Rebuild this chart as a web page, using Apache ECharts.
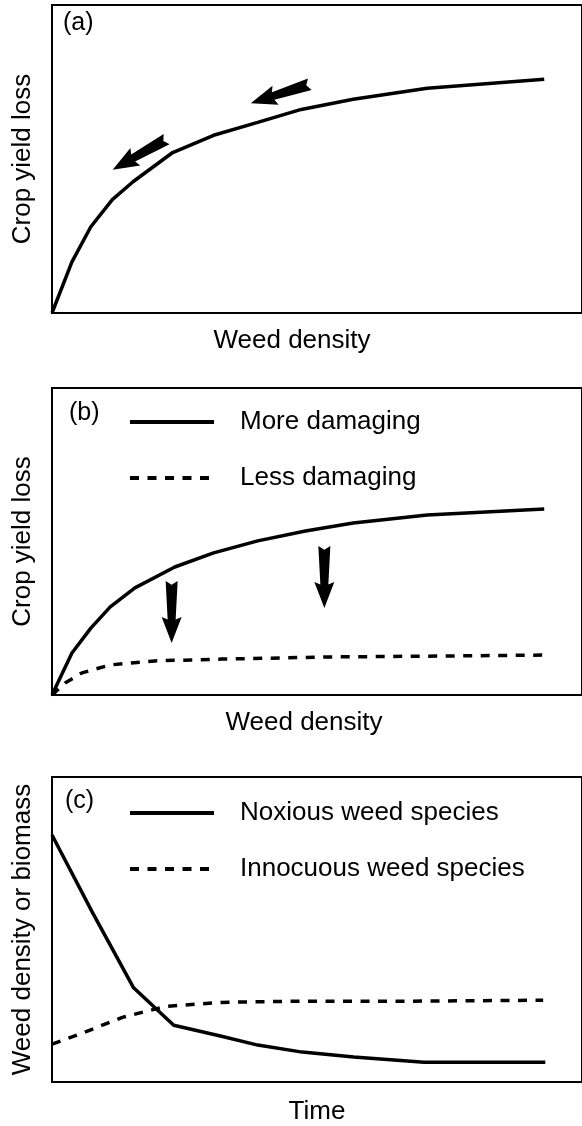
<!DOCTYPE html>
<html>
<head>
<meta charset="utf-8">
<title>Weed density figure</title>
<script src="https://cdn.jsdelivr.net/npm/echarts@6/dist/echarts.min.js"></script>
<style>
  html, body { margin: 0; padding: 0; background: #fff; }
  #chart { width: 582px; height: 1126px; }
</style>
</head>
<body>
<div id="chart"></div>
<script>
// panel (a)
var densityA = [0, 3.8, 7.4, 11.5, 15.5, 23.0, 30.8, 39.2, 47.5, 57.4, 71.5, 93.8];
var lossA = [0, 16.6, 28.0, 36.8, 42.7, 52.1, 57.7, 61.9, 66.1, 69.4, 73.0, 75.9];
var arrowsA = [[16.7, 51.5, 209.5], [43.5, 71.2, 197.8]];   // x, y, direction (deg)

// panel (b)
var moreX = [0, 3.8, 7.4, 11.1, 15.8, 23.4, 30.8, 39.2, 48.3, 57.4, 71.5, 93.8];
var moreY = [0, 13.7, 21.8, 28.7, 34.9, 41.7, 46.3, 50.2, 53.4, 56.0, 58.6, 60.6];
var lessX = [0, 2.5, 5.7, 11.1, 19.6, 32.3, 53.4, 74.3, 93.6];
var lessY = [0, 3.9, 7.2, 9.8, 11.1, 11.7, 12.4, 12.7, 13.0];
var arrowsB = [[22.8, 27.0, 270], [51.9, 38.4, 270]];

// panel (c)
var noxX = [0, 7.7, 15.5, 23.2, 32.3, 39.2, 47.7, 57.5, 70.9, 94.0];
var noxY = [81.0, 55.6, 31.0, 18.6, 15.0, 12.1, 9.8, 8.2, 6.5, 6.5];
var innX = [0, 6.2, 13.4, 21.7, 32.3, 46.2, 67.4, 93.6];
var innY = [12.4, 16.3, 21.2, 24.8, 26.1, 26.5, 26.5, 26.8];

var FONT = "'Liberation Sans', Arial, sans-serif";
// fat arrow pointing right, notched tail
var arrowPath = 'path://M0,8 L6,20 L0,32 L62,28 L58,40 L100,20 L58,0 L62,12 Z';
var DASH = [9, 8.5];

function zip(xs, ys) { return xs.map(function (x, i) { return [x, ys[i]]; }); }

var myChart = echarts.init(document.getElementById('chart'), null, { renderer: 'canvas' });

var grids = [
  { left: 52, width: 535, top: 5, height: 308 },
  { left: 52, width: 535, top: 388, height: 307 },
  { left: 52, width: 535, top: 777, height: 306 }
].map(function (g) {
  g.show = true; g.borderColor = '#000'; g.borderWidth = 2; g.backgroundColor = 'transparent';
  return g;
});

function xAx(i, name, shift, gap) {
  return {
    type: 'value', gridIndex: i, min: 0, max: 101,
    axisLine: { show: false }, axisTick: { show: false }, axisLabel: { show: false }, splitLine: { show: false },
    name: name, nameLocation: 'middle', nameGap: gap,
    nameTextStyle: { color: '#000', fontFamily: FONT, fontSize: 26, padding: [0, shift, 0, 0] }
  };
}
function yAx(i, name) {
  return {
    type: 'value', gridIndex: i, min: 0, max: 100,
    axisLine: { show: false }, axisTick: { show: false }, axisLabel: { show: false }, splitLine: { show: false },
    name: name, nameLocation: 'middle', nameGap: 16,
    nameTextStyle: { color: '#000', fontFamily: FONT, fontSize: 26 }
  };
}

function lineSeries(name, i, data, dashed) {
  return {
    name: name, type: 'line', xAxisIndex: i, yAxisIndex: i,
    data: data, symbol: 'none', smooth: false, silent: true,
    lineStyle: { color: '#000', width: 3.5, type: dashed ? DASH : 'solid' },
    itemStyle: { color: '#000' }
  };
}
function arrowSeries(i, arr) {
  return {
    type: 'scatter', xAxisIndex: i, yAxisIndex: i, silent: true,
    symbol: arrowPath, symbolSize: [62, 20],
    data: arr.map(function (a) { return { value: [a[0], a[1]], symbolRotate: a[2] }; }),
    itemStyle: { color: '#000', opacity: 1 }
  };
}

function legendFor(names, top) {
  return {
    data: names, orient: 'vertical', left: 128, top: top, padding: 0,
    itemWidth: 84, itemHeight: 30, itemGap: 26, selectedMode: false,
    itemStyle: { opacity: 0 },
    lineStyle: { width: 4 },
    textStyle: { color: '#000', fontFamily: FONT, fontSize: 26, lineHeight: 30, padding: [0, 0, 0, 21] }
  };
}

var labelStyle = { color: '#000', fontFamily: FONT, fontSize: 25, fontWeight: 'normal' };

var option = {
  backgroundColor: '#fff',
  animation: false,
  title: [
    { text: '(a)', left: 63, top: 11, padding: 0, textStyle: labelStyle },
    { text: '(b)', left: 69, top: 401, padding: 0, textStyle: labelStyle },
    { text: '(c)', left: 65, top: 789, padding: 0, textStyle: labelStyle }
  ],
  legend: [
    legendFor(['More damaging', 'Less damaging'], 407),
    legendFor(['Noxious weed species', 'Innocuous weed species'], 798)
  ],
  grid: grids,
  xAxis: [
    xAx(0, 'Weed density', 50, 15),
    xAx(1, 'Weed density', 26, 15),
    xAx(2, 'Time', 0, 17)
  ],
  yAxis: [
    yAx(0, 'Crop yield loss'),
    yAx(1, 'Crop yield loss'),
    yAx(2, 'Weed density or biomass')
  ],
  series: [
    lineSeries('Yield loss', 0, zip(densityA, lossA), false),
    arrowSeries(0, arrowsA),
    lineSeries('More damaging', 1, zip(moreX, moreY), false),
    lineSeries('Less damaging', 1, zip(lessX, lessY), true),
    arrowSeries(1, arrowsB),
    lineSeries('Noxious weed species', 2, zip(noxX, noxY), false),
    lineSeries('Innocuous weed species', 2, zip(innX, innY), true)
  ]
};

myChart.setOption(option);
window.addEventListener('resize', myChart.resize);
</script>
</body>
</html>
